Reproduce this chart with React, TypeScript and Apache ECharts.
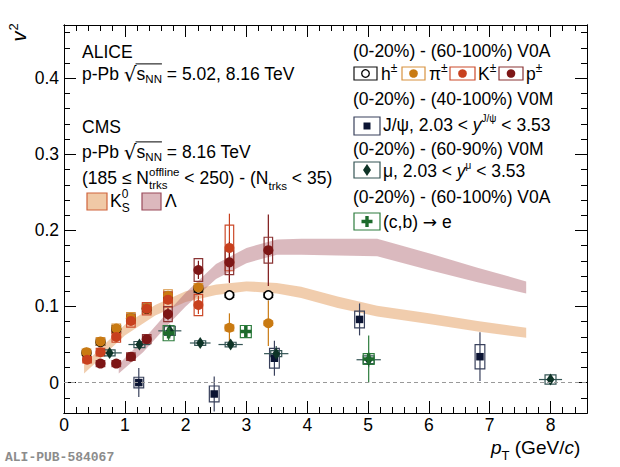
import React, { useEffect, useRef } from "react";
import * as echarts from "echarts";

const FONT = '"Liberation Sans", Arial, Helvetica, sans-serif';
const FS = 17.5;

// ---- axis ticks ----
const xTicks = [0, 1, 2, 3, 4, 5, 6, 7, 8];
const yTicks = [0, 0.1, 0.2, 0.3, 0.4];

// ---- CMS bands (pT, lower, upper) ----
const k0sPt = [0.33, 0.6, 1.0, 1.5, 2.0, 2.5, 3.0, 3.5, 3.9, 4.5, 5.15, 6.0, 6.8, 7.6];
const k0sLo = [0.012, 0.032, 0.062, 0.088, 0.106, 0.115, 0.12, 0.117, 0.111, 0.098, 0.087, 0.077, 0.067, 0.059];
const k0sHi = [0.024, 0.045, 0.076, 0.102, 0.12, 0.129, 0.133, 0.131, 0.126, 0.113, 0.101, 0.091, 0.081, 0.072];

const lamPt = [0.9, 1.3, 1.7, 2.0, 2.5, 3.0, 3.5, 3.9, 4.5, 5.15, 6.0, 6.8, 7.6];
const lamLo = [0.012, 0.04, 0.075, 0.1, 0.136, 0.157, 0.168, 0.168, 0.167, 0.166, 0.148, 0.132, 0.117];
const lamHi = [0.024, 0.056, 0.092, 0.118, 0.156, 0.177, 0.188, 0.189, 0.189, 0.189, 0.17, 0.151, 0.133];

// ---- ALICE h± ----
const hPt = [0.37, 0.6, 0.86, 1.1, 1.36, 1.71, 2.21, 2.72, 3.36];
const hV2 = [0.039, 0.053, 0.07, 0.084, 0.097, 0.112, 0.123, 0.115, 0.115];
const hStat = [0.001, 0.001, 0.001, 0.001, 0.001, 0.001, 0.001, 0.002, 0.002];
const hSys = [0.003, 0.004, 0.005, 0.006, 0.006, 0.007, 0.004, 0.003, 0.003];

// ---- π± ----
const piPt = [0.37, 0.6, 0.86, 1.1, 1.36, 1.71, 2.21, 2.72, 3.36];
const piV2 = [0.04, 0.054, 0.071, 0.085, 0.098, 0.114, 0.125, 0.072, 0.078];
const piStat = [0.002, 0.002, 0.002, 0.003, 0.003, 0.004, 0.006, 0.019, 0.03];
const piSys = [0.004, 0.005, 0.006, 0.007, 0.007, 0.008, 0.005, 0.004, 0.003];

// ---- K± ----
const kPt = [0.38, 0.6, 0.86, 1.1, 1.36, 1.71, 2.21, 2.72];
const kV2 = [0.03, 0.04, 0.06, 0.081, 0.097, 0.109, 0.102, 0.177];
const kStat = [0.002, 0.002, 0.003, 0.003, 0.004, 0.006, 0.012, 0.045];
const kSys = [0.004, 0.005, 0.007, 0.008, 0.008, 0.01, 0.014, 0.03];

// ---- p± ----
const pPt = [0.6, 0.86, 1.1, 1.36, 1.71, 2.21, 2.72, 3.36];
const pV2 = [0.025, 0.025, 0.034, 0.057, 0.09, 0.148, 0.158, 0.174];
const pStat = [0.005, 0.005, 0.005, 0.006, 0.008, 0.012, 0.027, 0.047];
const pSys = [0.004, 0.004, 0.005, 0.006, 0.01, 0.015, 0.016, 0.017];

// ---- J/ψ ----
const jPt = [1.23, 2.47, 3.46, 4.86, 6.84];
const jV2 = [0.0, -0.015, 0.032, 0.083, 0.034];
const jStat = [0.019, 0.023, 0.023, 0.021, 0.032];
const jSys = [0.007, 0.0105, 0.013, 0.011, 0.016];

// ---- μ ----
const muPt = [0.75, 1.24, 1.74, 2.24, 2.74, 3.49, 5.01, 8.0];
const muV2 = [0.039, 0.05, 0.068, 0.052, 0.05, 0.038, 0.03, 0.004];
const muStat = [0.004, 0.005, 0.008, 0.004, 0.004, 0.01, 0.01, 0.006];
const muSys = [0.004, 0.004, 0.006, 0.003, 0.003, 0.004, 0.005, 0.006];
const muPtErr = [0.2, 0.18, 0.19, 0.17, 0.2, 0.2, 0.2, 0.19];

// ---- (c,b) → e ----
const ePt = [1.72, 2.99, 5.01];
const eV2 = [0.065, 0.067, 0.031];
const eStat = [0.009, 0.005, 0.031];
const eSys = [0.01, 0.008, 0.007];

const C_PI = "#c97a12";
const C_PI_BOX = "#d8923f";
const C_K = "#c8401e";
const C_K_BOX = "#cc4a2a";
const C_P = "#7d1616";
const C_P_BOX = "#8a3434";
const C_J = "#0b1433";
const C_J_BOX = "#39415c";
const C_MU = "#0e3427";
const C_MU_BOX = "#355555";
const C_E = "#1d6b2c";
const C_E_BOX = "#2e7d3e";
const K0S_FILL = "rgba(228,155,91,0.5)";
const LAM_FILL = "rgba(173,100,111,0.45)";

const PLUS = "path://M3.4,0H6.6V3.4H10V6.6H6.6V10H3.4V6.6H0V3.4H3.4Z";

let ctx: CanvasRenderingContext2D | null = null;
function measure(t: string, size: number, italic?: boolean, fam?: string) {
  if (!ctx) ctx = document.createElement("canvas").getContext("2d");
  if (!ctx) return t.length * size * 0.55;
  ctx.font = `${italic ? "italic " : ""}${size}px ${fam ?? FONT}`;
  return ctx.measureText(t).width;
}

type Part = { t: string; s?: number; dy?: number; it?: boolean; hold?: boolean; f?: string };

function run(x0: number, base: number, parts: Part[], size = FS) {
  const els: any[] = [];
  const xs: number[] = [];
  let x = x0;
  let held = 0;
  for (const p of parts) {
    const s = p.s ?? size;
    const w = measure(p.t, s, p.it, p.f);
    xs.push(x);
    els.push({
      type: "text",
      x,
      y: base + (p.dy ?? 0) - 0.35 * s,
      silent: true,
      style: {
        text: p.t,
        fontSize: s,
        fontFamily: p.f ?? FONT,
        fontStyle: p.it ? "italic" : "normal",
        fill: "#000",
        align: "left",
        verticalAlign: "middle",
      },
    });
    if (p.hold) {
      held = w;
    } else {
      x += Math.max(w, held);
      held = 0;
    }
  }
  xs.push(x);
  return { els, xs };
}

function sqrtLine(x0: number, base: number, rest: string) {
  const r = run(x0, base, [
    { t: "p-Pb " },
    { t: "√", s: 20, dy: 1, f: '"DejaVu Sans", sans-serif' },
    { t: "s" },
    { t: "NN", s: 11.5, dy: 3 },
    { t: rest },
  ]);
  const xStart = r.xs[2];
  const xEnd = r.xs[4];
  const yl = base - 0.92 * FS;
  r.els.push({
    type: "line",
    silent: true,
    shape: { x1: xStart - 1, y1: yl, x2: xEnd, y2: yl },
    style: { stroke: "#000", lineWidth: 1 },
  });
  return r.els;
}

function zip(pt: number[], v: number[], st: number[], sy: number[], xe: number[] | null, bw: number) {
  return pt.map((p, i) => [p, v[i], st[i], sy[i], xe ? xe[i] : 0, bw]);
}

function errSeries(data: number[][], color: string, boxColor: string) {
  return {
    type: "custom",
    silent: true,
    z: 3,
    dimensions: ["x", "y", "st", "sy", "xe", "bw"],
    encode: { x: 0, y: 1 },
    data,
    renderItem: (_p: any, api: any) => {
      const x = api.value(0);
      const y = api.value(1);
      const st = api.value(2);
      const sy = api.value(3);
      const xe = api.value(4);
      const bw = api.value(5);
      const a = api.coord([x - bw, y + sy]);
      const b = api.coord([x + bw, y - sy]);
      const t = api.coord([x, y + st]);
      const d = api.coord([x, y - st]);
      const children: any[] = [
        { type: "line", shape: { x1: t[0], y1: t[1], x2: d[0], y2: d[1] }, style: { stroke: color, lineWidth: 1.2 } },
      ];
      if (xe > 0) {
        const l = api.coord([x - xe, y]);
        const r = api.coord([x + xe, y]);
        children.push({ type: "line", shape: { x1: l[0], y1: l[1], x2: r[0], y2: r[1] }, style: { stroke: color, lineWidth: 1.2 } });
      }
      children.push({
        type: "rect",
        shape: { x: a[0], y: a[1], width: b[0] - a[0], height: b[1] - a[1] },
        style: { fill: "none", stroke: boxColor, lineWidth: 1.2 },
      });
      return { type: "group", children };
    },
  };
}

function bandSeries(pt: number[], lo: number[], hi: number[], fill: string, extra: any = {}) {
  return {
    type: "custom",
    silent: true,
    z: 1,
    encode: { x: 0, y: 1 },
    data: [[pt[0], lo[0]]],
    renderItem: (_p: any, api: any) => {
      const pts: number[][] = [];
      pt.forEach((p, i) => pts.push(api.coord([p, hi[i]])));
      for (let i = pt.length - 1; i >= 0; i--) pts.push(api.coord([pt[i], lo[i]]));
      return { type: "polygon", shape: { points: pts }, style: { fill } };
    },
    ...extra,
  };
}

function markerSeries(pt: number[], v: number[], symbol: string, size: any, color: string, border?: string, bw = 0) {
  return {
    type: "scatter",
    silent: true,
    z: 4,
    symbol,
    symbolSize: size,
    itemStyle: { color, borderColor: border ?? color, borderWidth: bw, opacity: 1 },
    data: pt.map((p, i) => [p, v[i]]),
  };
}

function buildGraphic() {
  const els: any[] = [];
  const push = (a: any[]) => a.forEach((e) => els.push(e));
  // left block
  push(run(82, 58, [{ t: "ALICE" }]).els);
  push(sqrtLine(82, 80, " = 5.02, 8.16 TeV"));
  push(run(82, 133, [{ t: "CMS" }]).els);
  push(sqrtLine(82, 158, " = 8.16 TeV"));
  push(
    run(82, 184, [
      { t: "(185 ≤ N" },
      { t: "offline", s: 11.5, dy: -8, hold: true },
      { t: "trks", s: 11.5, dy: 5 },
      { t: " < 250) - (N" },
      { t: "trks", s: 11.5, dy: 6 },
      { t: " < 35)" },
    ]).els
  );
  els.push({ type: "rect", silent: true, shape: { x: 87, y: 193, width: 20, height: 17 }, style: { fill: "#f0c9a6", stroke: "#d0643c", lineWidth: 1.2 } });
  push(run(110, 207, [{ t: "K" }, { t: "0", s: 12, dy: -9, hold: true }, { t: "S", s: 12, dy: 5 }]).els);
  els.push({ type: "rect", silent: true, shape: { x: 142, y: 193, width: 19, height: 17 }, style: { fill: "#dcb8bd", stroke: "#9a4a5a", lineWidth: 1.2 } });
  push(run(165, 207, [{ t: "Λ" }]).els);

  // right block
  const rx = 353;
  push(run(rx, 57, [{ t: "(0-20%) - (60-100%) V0A" }]).els);
  const box = (x: number, y: number, w: number, h: number, stroke: string) =>
    els.push({ type: "rect", silent: true, shape: { x, y, width: w, height: h }, style: { fill: "#fff", stroke, lineWidth: 1.2 } });
  box(354, 67, 23, 13, "#111");
  els.push({ type: "circle", silent: true, shape: { cx: 365.5, cy: 73.5, r: 3.8 }, style: { fill: "#fff", stroke: "#000", lineWidth: 1.3 } });
  push(run(381, 80, [{ t: "h" }, { t: "±", s: 12, dy: -8 }]).els);
  box(402, 67, 23, 13, C_PI_BOX);
  els.push({ type: "circle", silent: true, shape: { cx: 413.5, cy: 73.5, r: 4.3 }, style: { fill: C_PI } });
  push(run(429, 80, [{ t: "π" }, { t: "±", s: 12, dy: -8 }]).els);
  box(450, 67, 25, 13, C_K_BOX);
  els.push({ type: "circle", silent: true, shape: { cx: 462.5, cy: 73.5, r: 4.3 }, style: { fill: C_K } });
  push(run(478, 80, [{ t: "K" }, { t: "±", s: 12, dy: -8 }]).els);
  box(499, 67, 24, 13, C_P_BOX);
  els.push({ type: "circle", silent: true, shape: { cx: 511, cy: 73.5, r: 4.3 }, style: { fill: C_P } });
  push(run(526, 80, [{ t: "p" }, { t: "±", s: 12, dy: -8 }]).els);

  push(run(rx, 105, [{ t: "(0-20%) - (40-100%) V0M" }]).els);
  box(354, 117, 26, 18, C_J_BOX);
  els.push({ type: "rect", silent: true, shape: { x: 363.5, y: 122.5, width: 7, height: 7 }, style: { fill: C_J } });
  push(run(383, 131, [{ t: "J/ψ, 2.03 < " }, { t: "y", it: true }, { t: "J/ψ", s: 10, dy: -9 }, { t: " < 3.53" }]).els);

  push(run(rx, 155, [{ t: "(0-20%) - (60-90%) V0M" }]).els);
  box(354, 162, 26, 16, C_MU_BOX);
  els.push({ type: "polygon", silent: true, shape: { points: [[367, 164], [371, 170], [367, 176], [363, 170]] }, style: { fill: C_MU } });
  push(run(383, 177, [{ t: "μ, 2.03 < " }, { t: "y", it: true }, { t: "μ", s: 10, dy: -8 }, { t: " < 3.53" }]).els);

  push(run(rx, 203, [{ t: "(0-20%) - (60-100%) V0A" }]).els);
  box(354, 213, 26, 17, C_E_BOX);
  {
    const cx = 367, cy = 221.5, a = 1.7, L = 5.5;
    els.push({
      type: "polygon",
      silent: true,
      shape: {
        points: [
          [cx - a, cy - L], [cx + a, cy - L], [cx + a, cy - a], [cx + L, cy - a], [cx + L, cy + a], [cx + a, cy + a],
          [cx + a, cy + L], [cx - a, cy + L], [cx - a, cy + a], [cx - L, cy + a], [cx - L, cy - a], [cx - a, cy - a],
        ],
      },
      style: { fill: C_E },
    });
  }
  push(run(383, 228, [{ t: "(c,b) " }, { t: "→", f: '"DejaVu Sans", sans-serif', s: 17 }, { t: " e" }]).els);

  // axis titles
  els.push({ type: "text", silent: true, x: 18.5, y: 36.5, rotation: Math.PI / 2, style: { text: "v", fontSize: 20, fontStyle: "italic", fontFamily: FONT, fill: "#000", align: "center", verticalAlign: "middle" } });
  els.push({ type: "text", silent: true, x: 13, y: 27, rotation: Math.PI / 2, style: { text: "2", fontSize: 13, fontFamily: FONT, fill: "#000", align: "center", verticalAlign: "middle" } });
  push(
    run(491, 454, [
      { t: "p", it: true, s: 19 },
      { t: "T", s: 13, dy: 6 },
      { t: " (GeV/", s: 19 },
      { t: "c", it: true, s: 19 },
      { t: ")", s: 19 },
    ]).els
  );
  els.push({
    type: "text",
    silent: true,
    x: 5,
    y: 457,
    style: { text: "ALI-PUB-584067", fontSize: 13, fontWeight: "bold", fontFamily: '"Liberation Mono", "DejaVu Sans Mono", monospace', fill: "#8c8c8c", align: "left", verticalAlign: "middle" },
  });
  return els;
}

function buildOption(): any {
  const axisLine = { show: true, onZero: false, lineStyle: { color: "#000", width: 1 } };
  const label = { fontFamily: FONT, fontSize: FS, color: "#000" };
  const xBase = { type: "value", min: 0, max: 8.6, splitLine: { show: false }, axisLine };
  const yBase = { type: "value", min: -0.04, max: 0.47, splitLine: { show: false }, axisLine };
  return {
    animation: false,
    grid: { left: 64, top: 25, right: 33, bottom: 54, containLabel: false, outerBoundsMode: "none" },
    xAxis: [
      { ...xBase, position: "bottom", interval: 0.2, axisTick: { inside: true, length: 6, lineStyle: { color: "#000" } }, axisLabel: { show: false } },
      {
        ...xBase,
        position: "bottom",
        axisTick: { inside: true, length: 12, customValues: xTicks, lineStyle: { color: "#000" } },
        axisLabel: { ...label, margin: 3, customValues: xTicks, formatter: (v: number) => String(v) },
      },
      { ...xBase, position: "top", interval: 0.2, axisTick: { inside: true, length: 6, lineStyle: { color: "#000" } }, axisLabel: { show: false } },
      { ...xBase, position: "top", axisTick: { inside: true, length: 12, customValues: xTicks, lineStyle: { color: "#000" } }, axisLabel: { show: false, customValues: xTicks } },
    ],
    yAxis: [
      { ...yBase, position: "left", interval: 0.02, axisTick: { inside: true, length: 6, lineStyle: { color: "#000" } }, axisLabel: { show: false } },
      {
        ...yBase,
        position: "left",
        axisTick: { inside: true, length: 12, customValues: yTicks, lineStyle: { color: "#000" } },
        axisLabel: { ...label, margin: 5, customValues: yTicks, formatter: (v: number) => (Math.abs(v) < 1e-9 ? "0" : v.toFixed(1)) },
      },
      { ...yBase, position: "right", interval: 0.02, axisTick: { inside: true, length: 6, lineStyle: { color: "#000" } }, axisLabel: { show: false } },
      { ...yBase, position: "right", axisTick: { inside: true, length: 12, customValues: yTicks, lineStyle: { color: "#000" } }, axisLabel: { show: false, customValues: yTicks } },
    ],
    series: [
      bandSeries(k0sPt, k0sLo, k0sHi, K0S_FILL, {
        markLine: {
          silent: true,
          symbol: ["none", "none"],
          label: { show: false },
          lineStyle: { type: [4, 3], color: "#999", width: 1 },
          data: [{ yAxis: 0 }],
        },
      }),
      bandSeries(lamPt, lamLo, lamHi, LAM_FILL),
      errSeries(zip(hPt, hV2, hStat, hSys, null, 0.07), "#000", "#111"),
      errSeries(zip(piPt, piV2, piStat, piSys, null, 0.07), C_PI, C_PI_BOX),
      errSeries(zip(kPt, kV2, kStat, kSys, null, 0.07), C_K, C_K_BOX),
      errSeries(zip(pPt, pV2, pStat, pSys, null, 0.07), C_P, C_P_BOX),
      errSeries(zip(jPt, jV2, jStat, jSys, null, 0.08), C_J_BOX, C_J_BOX),
      errSeries(zip(muPt, muV2, muStat, muSys, muPtErr, 0.09), C_MU_BOX, C_MU_BOX),
      errSeries(zip(ePt, eV2, eStat, eSys, null, 0.09), C_E_BOX, C_E_BOX),
      markerSeries(hPt, hV2, "circle", 8.5, "#fff", "#000", 1.6),
      markerSeries(piPt, piV2, "circle", 10, C_PI),
      markerSeries(kPt, kV2, "circle", 10, C_K),
      markerSeries(pPt, pV2, "circle", 10, C_P),
      markerSeries(jPt, jV2, "rect", 7.5, C_J),
      markerSeries(muPt, muV2, "diamond", [8, 12], C_MU),
      markerSeries(ePt, eV2, PLUS, 11, C_E),
    ],
    graphic: { elements: buildGraphic() },
  };
}

export default function App() {
  const ref = useRef<HTMLDivElement>(null);
  useEffect(() => {
    document.body.style.margin = "0";
    if (!ref.current) return;
    const chart = echarts.init(ref.current, null, { renderer: "svg" });
    chart.setOption(buildOption());
    return () => chart.dispose();
  }, []);
  return <div ref={ref} style={{ width: 620, height: 467 }} />;
}
